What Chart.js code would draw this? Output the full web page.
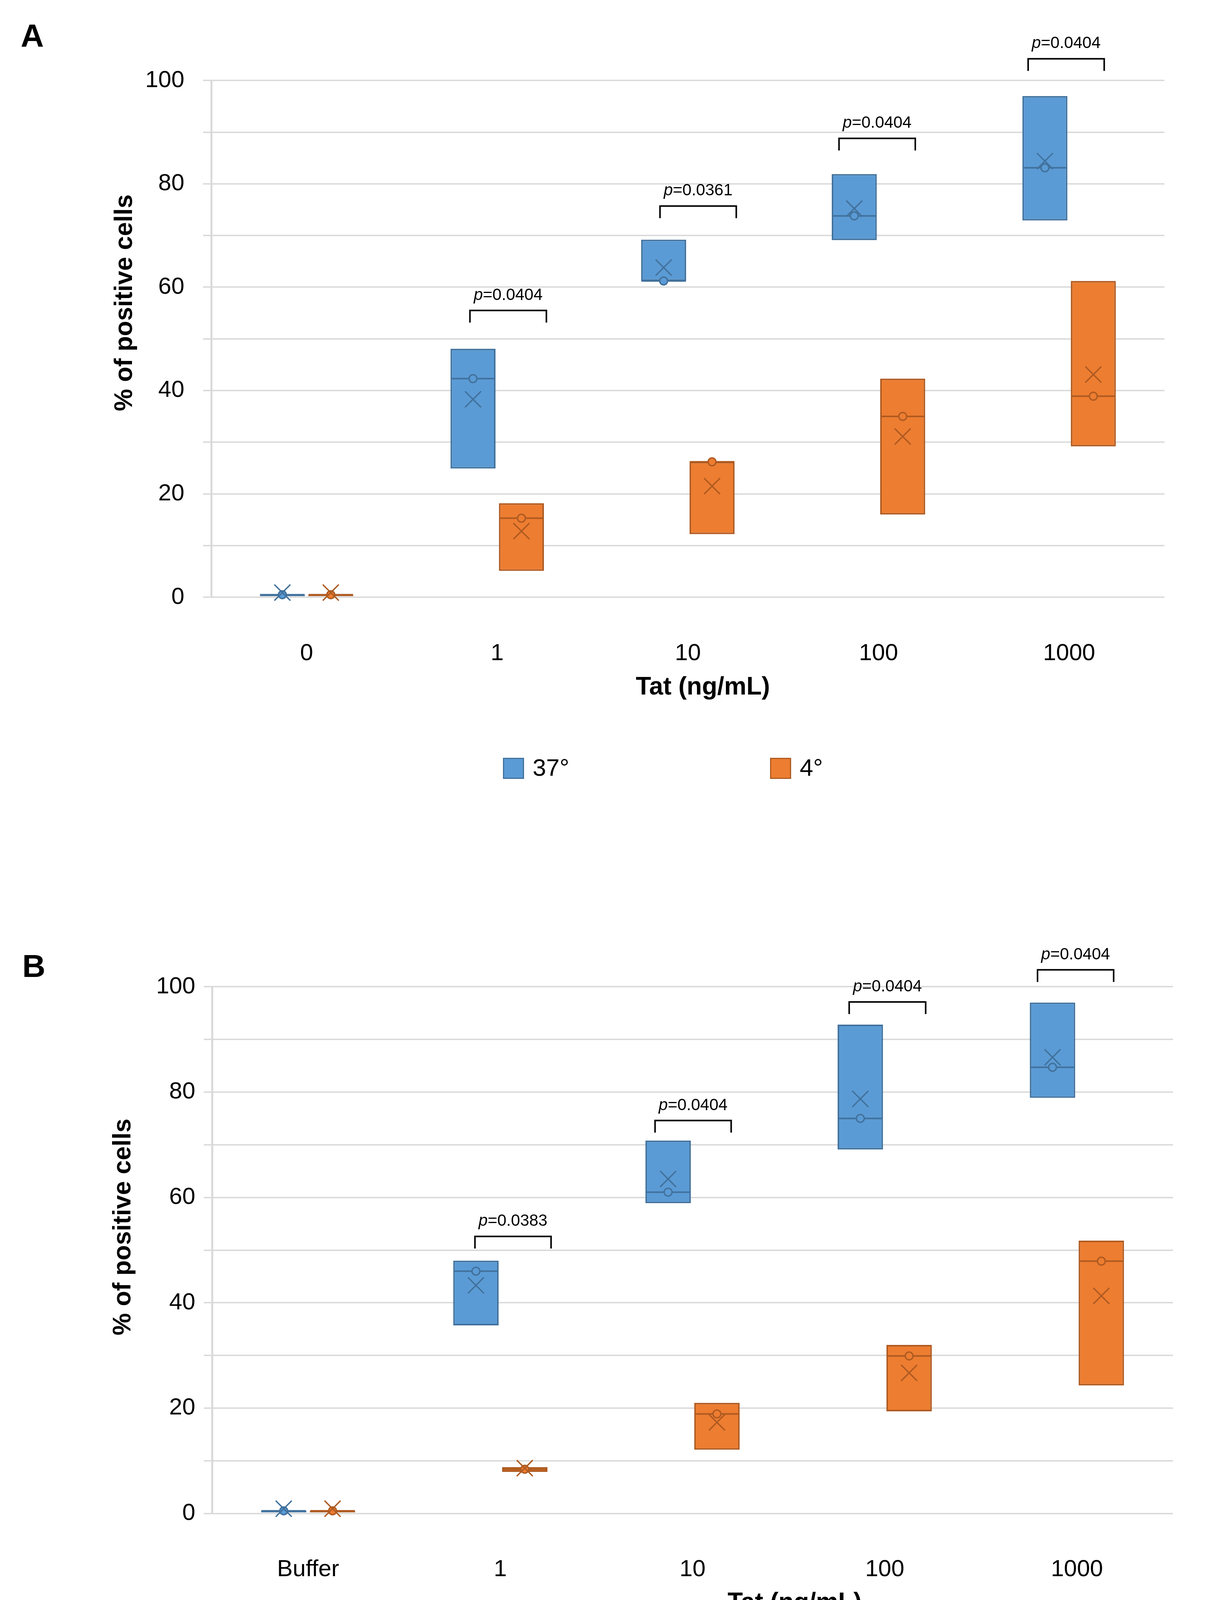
<!DOCTYPE html>
<html>
<head>
<meta charset="utf-8">
<script src="https://cdn.jsdelivr.net/npm/chart.js@4.4.1/dist/chart.umd.min.js"></script>
<style>
html,body{margin:0;padding:0;background:#ffffff;}
#wrap{position:relative;width:3091px;height:4386px;background:#ffffff;}
canvas{position:absolute;left:0;}
#cA{top:0;}
#cB{top:2193px;}
</style>
</head>
<body>
<div id="wrap">
<canvas id="cA" width="3091" height="2193"></canvas>
<canvas id="cB" width="3091" height="2193"></canvas>
</div>
<script>
// ---------------- DATA ----------------
// Panel A
const categoriesA = ['0', '1', '10', '100', '1000'];
const seriesA = ['37°', '4°'];
const a37Q1     = [0.2, 24.9, 61.2, 69.1, 72.9];
const a37Q3     = [0.5, 48.1, 69.2, 81.9, 97.0];
const a37Median = [0.5, 42.3, 61.2, 73.8, 83.1];
const a37Mean   = [0.9, 38.3, 63.8, 75.2, 84.4];
const a4Q1      = [0.2, 5.1, 12.2, 16.0, 29.2];
const a4Q3      = [0.5, 18.2, 26.2, 42.3, 61.2];
const a4Median  = [0.5, 15.3, 26.2, 35.0, 38.9];
const a4Mean    = [0.9, 12.8, 21.5, 31.1, 43.1];
const pValuesA  = ['0.0404', '0.0361', '0.0404', '0.0404'];
const pFromA    = [0.857, 1.854, 2.793, 3.785];   // bracket ends, x-axis units
const pToA      = [1.258, 2.254, 3.193, 4.184];
const pTopA     = [55.5, 75.7, 88.8, 104.2];       // bracket top, y-axis units

// Panel B
const categoriesB = ['Buffer', '1', '10', '100', '1000'];
const seriesB = ['Tat', 'ox-Tat'];
const bTatQ1     = [0.2, 35.7, 58.9, 69.1, 78.9];
const bTatQ3     = [0.5, 48.0, 70.8, 92.8, 97.0];
const bTatMedian = [0.5, 46.0, 61.0, 75.0, 84.7];
const bTatMean   = [0.9, 43.3, 63.5, 78.7, 86.6];
const bOxQ1      = [0.2, 7.9, 12.1, 19.4, 24.3];
const bOxQ3      = [0.5, 8.8, 21.0, 32.0, 51.8];
const bOxMedian  = [0.5, 8.4, 18.9, 29.9, 47.9];
const bOxMean    = [0.9, 8.6, 17.3, 26.7, 41.3];
const pValuesB   = ['0.0383', '0.0404', '0.0404', '0.0404'];
const pFromB     = [0.868, 1.805, 2.815, 3.795];
const pToB       = [1.264, 2.201, 3.213, 4.191];
const pTopB      = [52.6, 74.6, 97.1, 103.2];

// ---------------- STYLE ----------------
const FONT = "'Liberation Sans', Arial, Helvetica, sans-serif";
Chart.defaults.font.family = FONT;
const BLUE_FILL = '#5B9BD5', BLUE_LINE = '#41719C';
const ORANGE_FILL = '#ED7D31', ORANGE_LINE = '#AE5A21';
const CAT_PCT = 0.508, BAR_PCT = 0.93;
const SIDE_OFF = CAT_PCT / 4;
const X_AXIS_H = 220;

function seriesDatasets(name, q1, q3, med, mean, fill, line, side) {
  const px = i => i + side * SIDE_OFF;
  return [
    { type: 'bar', label: name, order: 3,
      data: q1.map((v, i) => ({ x: i, y: [v, q3[i]] })),
      backgroundColor: fill, borderColor: line, borderWidth: 4, borderSkipped: false,
      categoryPercentage: CAT_PCT, barPercentage: BAR_PCT },
    { type: 'line', label: name + ' median', order: 2, showLine: false, clip: false,
      data: med.map((v, i) => ({ x: px(i), y: v })),
      pointStyle: 'line', pointRadius: 57, pointHoverRadius: 57,
      pointBorderWidth: 4, pointBorderColor: line, pointBackgroundColor: line },
    { type: 'line', label: name + ' median pt', order: 1, showLine: false, clip: false,
      data: med.map((v, i) => ({ x: px(i), y: v })),
      pointStyle: 'circle', pointRadius: 10, pointHoverRadius: 10,
      pointBorderWidth: 3.5, pointBorderColor: line, pointBackgroundColor: fill },
    { type: 'line', label: name + ' mean', order: 0, showLine: false, clip: false,
      data: mean.map((v, i) => ({ x: px(i), y: v })),
      pointStyle: 'crossRot', pointRadius: 29, pointHoverRadius: 29,
      pointBorderWidth: 3.5, pointBorderColor: line, pointBackgroundColor: line }
  ];
}

function makePanel(canvasId, P) {
  const datasets = [
    ...seriesDatasets(P.names[0], P.s1[0], P.s1[1], P.s1[2], P.s1[3], BLUE_FILL, BLUE_LINE, -1),
    ...seriesDatasets(P.names[1], P.s2[0], P.s2[1], P.s2[2], P.s2[3], ORANGE_FILL, ORANGE_LINE, 1)
  ];
  const annot = {
    id: 'annot' + canvasId,
    afterDraw(chart) {
      const { ctx } = chart;
      const xs = chart.scales.x, ys = chart.scales.y;
      ctx.save();
      // significance brackets
      ctx.strokeStyle = '#000';
      ctx.fillStyle = '#000';
      ctx.lineWidth = 4;
      ctx.lineJoin = 'miter';
      for (let k = 0; k < P.pVals.length; k++) {
        const xl = xs.getPixelForValue(P.pFrom[k]);
        const xr = xs.getPixelForValue(P.pTo[k]);
        const yt = ys.getPixelForValue(P.pTop[k]);
        ctx.beginPath();
        ctx.moveTo(xl, yt + 31);
        ctx.lineTo(xl, yt);
        ctx.lineTo(xr, yt);
        ctx.lineTo(xr, yt + 31);
        ctx.stroke();
        const italic = 'italic 42px ' + FONT, normal = '42px ' + FONT;
        ctx.font = italic; const w1 = ctx.measureText('p').width;
        ctx.font = normal; const rest = '=' + P.pVals[k]; const w2 = ctx.measureText(rest).width;
        const sx = (xl + xr) / 2 - (w1 + w2) / 2;
        ctx.textBaseline = 'alphabetic'; ctx.textAlign = 'left';
        ctx.font = italic; ctx.fillText('p', sx, yt - 27);
        ctx.font = normal; ctx.fillText(rest, sx + w1, yt - 27);
      }
      // axis titles
      ctx.fillStyle = '#000';
      ctx.font = 'bold 64px ' + FONT;
      ctx.textAlign = 'center'; ctx.textBaseline = 'middle';
      ctx.fillText(P.xTitle, P.xTitlePos[0], P.xTitlePos[1]);
      ctx.save();
      ctx.translate(P.yTitlePos[0], P.yTitlePos[1]);
      ctx.rotate(-Math.PI / 2);
      ctx.fillText(P.yTitle, 0, 0);
      ctx.restore();
      // panel letter
      ctx.font = 'bold 82px ' + FONT;
      ctx.textAlign = 'left'; ctx.textBaseline = 'alphabetic';
      ctx.fillText(P.letter, P.letterPos[0], P.letterPos[1]);
      // legend
      const fills = [BLUE_FILL, ORANGE_FILL], lines = [BLUE_LINE, ORANGE_LINE];
      ctx.font = '62px ' + FONT;
      ctx.textBaseline = 'middle';
      for (let k = 0; k < 2; k++) {
        const lx = P.legendX[k], ly = P.legendY, s = 54;
        ctx.fillStyle = fills[k];
        ctx.fillRect(lx, ly - s / 2, s, s);
        ctx.strokeStyle = lines[k]; ctx.lineWidth = 3;
        ctx.strokeRect(lx + 1.5, ly - s / 2 + 1.5, s - 3, s - 3);
        ctx.fillStyle = '#000';
        ctx.fillText(P.names[k], lx + s + 22, ly + 2);
      }
      ctx.restore();
    }
  };
  return new Chart(document.getElementById(canvasId), {
    type: 'bar',
    data: { datasets },
    options: {
      responsive: false, animation: false, devicePixelRatio: 1,
      layout: { padding: { left: 0, right: P.padRight, top: P.padTop, bottom: P.padBottom } },
      plugins: { legend: { display: false }, tooltip: { enabled: false } },
      scales: {
        x: {
          type: 'linear', min: -0.5, max: 4.5, offset: false,
          grid: { display: false, offset: false }, border: { display: false },
          afterBuildTicks: s => { s.ticks = P.cats.map((_, i) => ({ value: i })); },
          afterFit: s => { s.height = X_AXIS_H; },
          ticks: { callback: v => P.cats[v], font: { size: 60 }, color: '#000', padding: 100,
                   maxRotation: 0, autoSkip: false }
        },
        y: {
          min: 0, max: 100,
          afterFit: s => { s.width = P.yWidth; },
          ticks: { stepSize: 10, callback: v => (v % 20 === 0 ? v : ''), font: { size: 60 },
                   color: '#000', padding: P.yPad },
          grid: { color: '#d9d9d9', lineWidth: 3.5, tickLength: 21, drawTicks: true },
          border: { color: '#d9d9d9', width: 5 }
        }
      }
    },
    plugins: [annot]
  });
}

makePanel('cA', {
  cats: categoriesA, names: seriesA,
  s1: [a37Q1, a37Q3, a37Median, a37Mean],
  s2: [a4Q1, a4Q3, a4Median, a4Mean],
  pVals: pValuesA, pFrom: pFromA, pTo: pToA, pTop: pTopA,
  padTop: 206, padRight: 109, padBottom: 2193 - 1529 - X_AXIS_H, yWidth: 541, yPad: 48,
  xTitle: 'Tat (ng/mL)', yTitle: '% of positive cells',
  xTitlePos: [1800, 1760], yTitlePos: [320, 775],
  letter: 'A', letterPos: [53, 119],
  legendX: [1288, 1972], legendY: 1967
});

makePanel('cB', {
  cats: categoriesB, names: seriesB,
  s1: [bTatQ1, bTatQ3, bTatMedian, bTatMean],
  s2: [bOxQ1, bOxQ3, bOxMedian, bOxMean],
  pVals: pValuesB, pFrom: pFromB, pTo: pToB, pTop: pTopB,
  padTop: 333, padRight: 87, padBottom: 2193 - 1681.5 - X_AXIS_H, yWidth: 543, yPad: 22,
  xTitle: 'Tat (ng/mL)', yTitle: '% of positive cells',
  xTitlePos: [2035, 1911], yTitlePos: [316, 948],
  letter: 'B', letterPos: [57, 308],
  legendX: [1416, 2025], legendY: 2127
});
</script>
</body>
</html>
